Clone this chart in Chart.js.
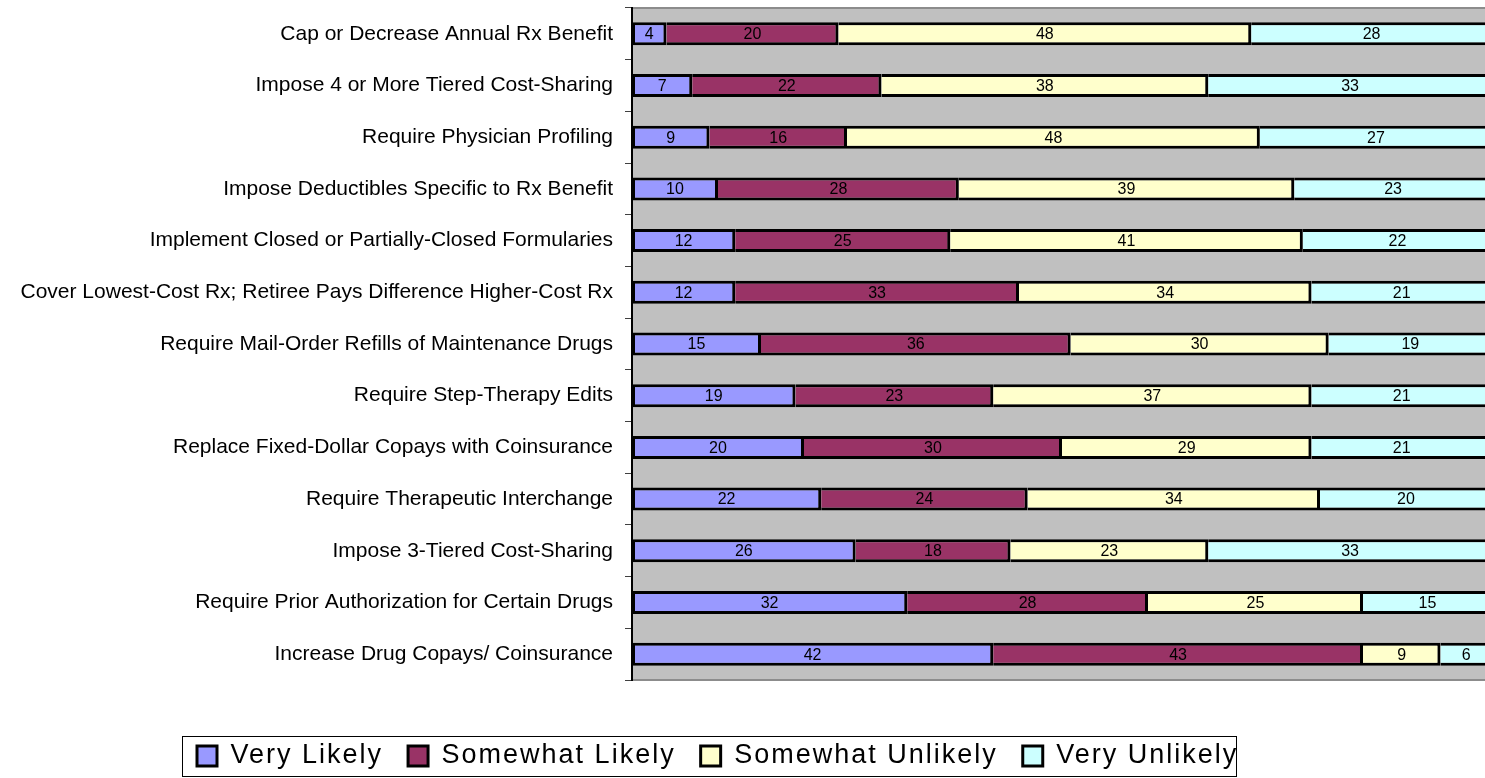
<!DOCTYPE html>
<html>
<head>
<meta charset="utf-8">
<script src="https://cdn.jsdelivr.net/npm/chart.js@4/dist/chart.umd.min.js"></script>
<style>
  html, body { margin: 0; padding: 0; background: #fff; overflow: hidden; width: 1485px; height: 778px; }
  #wrap { position: absolute; left: 0; top: 0; width: 1500px; height: 778px; }
</style>
</head>
<body>
<div id="wrap"><canvas id="c" width="1500" height="778"></canvas></div>
<script>
// Retiree drug-benefit changes and how likely employers are to make them (% of respondents)
const categories = [
  'Cap or Decrease Annual Rx Benefit',
  'Impose 4 or More Tiered Cost-Sharing',
  'Require Physician Profiling',
  'Impose Deductibles Specific to Rx Benefit',
  'Implement Closed or Partially-Closed Formularies',
  'Cover Lowest-Cost Rx; Retiree Pays Difference Higher-Cost Rx',
  'Require Mail-Order Refills of Maintenance Drugs',
  'Require Step-Therapy Edits',
  'Replace Fixed-Dollar Copays with Coinsurance',
  'Require Therapeutic Interchange',
  'Impose 3-Tiered Cost-Sharing',
  'Require Prior Authorization for Certain Drugs',
  'Increase Drug Copays/ Coinsurance'
];
const seriesNames = ['Very Likely', 'Somewhat Likely', 'Somewhat Unlikely', 'Very Unlikely'];
const veryLikely       = [4, 7, 9, 10, 12, 12, 15, 19, 20, 22, 26, 32, 42];
const somewhatLikely   = [20, 22, 16, 28, 25, 33, 36, 23, 30, 24, 18, 28, 43];
const somewhatUnlikely = [48, 38, 48, 39, 41, 34, 30, 37, 29, 34, 23, 25, 9];
const veryUnlikely     = [28, 33, 27, 23, 22, 21, 19, 21, 21, 20, 33, 15, 6];
const seriesColors = ['#9999FF', '#993366', '#FFFFCC', '#CCFFFF'];

const FONT = '"Liberation Sans", Arial, sans-serif';
const LEGEND_PAD = 25;
const LEGEND_SPACING = '2px';

// grey plot area with darker top/bottom edges
const plotBackground = {
  id: 'plotBackground',
  beforeDraw(chart) {
    const { ctx, chartArea: a } = chart;
    ctx.save();
    ctx.fillStyle = '#C0C0C0';
    ctx.fillRect(a.left, a.top, a.right - a.left, a.bottom - a.top);
    ctx.fillStyle = '#8C8C8C';
    ctx.fillRect(a.left, a.top - 1, a.right - a.left, 2);
    ctx.fillRect(a.left, a.bottom - 1, a.right - a.left, 2);
    ctx.restore();
  }
};

// value printed in the middle of each stacked segment
const segmentLabels = {
  id: 'segmentLabels',
  afterDatasetsDraw(chart) {
    const ctx = chart.ctx;
    ctx.save();
    ctx.font = '16px ' + FONT;
    ctx.fillStyle = '#000';
    ctx.textAlign = 'center';
    ctx.textBaseline = 'middle';
    chart.data.datasets.forEach((ds, i) => {
      chart.getDatasetMeta(i).data.forEach((bar, j) => {
        const p = bar.getCenterPoint();
        ctx.fillText(String(ds.data[j]), p.x, p.y + 1);
      });
    });
    ctx.restore();
  }
};

// legend: wider letter spacing, centred inside a framed box under the plot
const legendFrame = {
  id: 'legendFrame',
  afterInit(chart) {
    const lg = chart.legend;
    const spaced = fn => function(...args) {
      const ctx = chart.ctx;
      ctx.save();
      ctx.letterSpacing = LEGEND_SPACING;
      const r = fn.apply(lg, args);
      ctx.restore();
      return r;
    };
    lg.fit = spaced(lg.fit);
    lg.draw = spaced(lg.draw);
  },
  afterLayout(chart) {
    const lg = chart.legend;
    const h = lg.bottom - lg.top;
    const firstBoxX = 197;
    lg.right = 1480;
    lg.left = 2 * firstBoxX - LEGEND_PAD - lg.right + lg.lineWidths[0];
    lg.top = 742.5 - LEGEND_PAD;
    lg.bottom = lg.top + h;
  },
  afterDraw(chart) {
    const ctx = chart.ctx;
    ctx.save();
    ctx.strokeStyle = '#000';
    ctx.lineWidth = 1;
    ctx.strokeRect(182.5, 736.5, 1054, 40);
    ctx.restore();
  }
};

const values = [veryLikely, somewhatLikely, somewhatUnlikely, veryUnlikely];

new Chart(document.getElementById('c'), {
  type: 'bar',
  data: {
    labels: categories,
    datasets: seriesNames.map((name, i) => ({
      label: name,
      data: values[i],
      backgroundColor: seriesColors[i],
      borderColor: '#000',
      borderWidth: { left: i === 0 ? 3 : 0, right: 3, top: 3, bottom: 3 },
      borderSkipped: false,
      categoryPercentage: 1,
      barPercentage: 0.445
    }))
  },
  options: {
    indexAxis: 'y',
    responsive: false,
    animation: false,
    devicePixelRatio: 1,
    layout: { padding: { top: 8, right: 8, left: 0, bottom: 36 } },
    scales: {
      x: { stacked: true, min: 0, max: 100, display: false },
      y: {
        stacked: true,
        afterFit(scale) {
          scale.width = 632;
          scale.paddingTop = 0;
          scale.paddingBottom = 0;
        },
        border: { display: true, color: '#000', width: 2 },
        grid: { display: true, drawOnChartArea: false, drawTicks: true, tickLength: 7, color: '#404040', lineWidth: 1, offset: true },
        ticks: { color: '#000', padding: 12, font: { family: FONT, size: 21 } }
      }
    },
    plugins: {
      legend: {
        display: true,
        position: 'bottom',
        labels: {
          color: '#000',
          boxWidth: 20,
          boxHeight: 20,
          padding: LEGEND_PAD,
          font: { family: FONT, size: 27 },
          generateLabels(chart) {
            return Chart.defaults.plugins.legend.labels.generateLabels(chart).map(it => {
              it.lineWidth = 3;
              it.strokeStyle = '#000';
              return it;
            });
          }
        }
      },
      tooltip: { enabled: false },
      title: { display: false }
    }
  },
  plugins: [plotBackground, segmentLabels, legendFrame]
});
</script>
</body>
</html>
